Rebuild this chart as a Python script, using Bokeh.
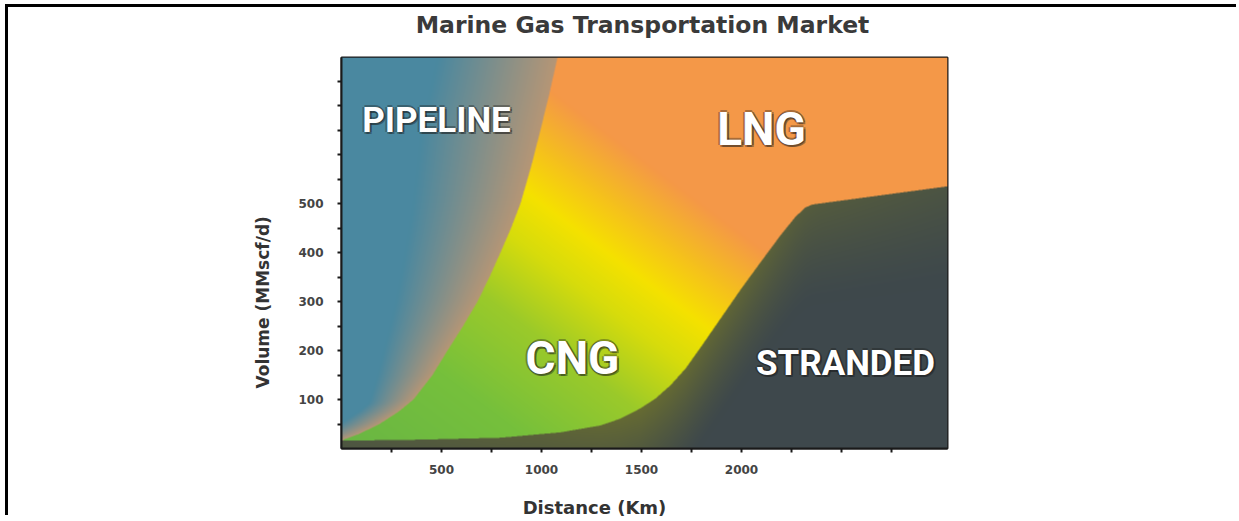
import numpy as np
from bokeh.plotting import figure
from bokeh.layouts import column
from bokeh.models import FixedTicker, ColumnDataSource, Title
from bokeh.core.properties import value
from bokeh.embed import file_html
from bokeh.resources import INLINE

# ---------------- data ----------------
title_text = "Marine Gas Transportation Market"
x_label = "Distance (Km)"
y_label = "Volume (MMscf/d)"

x_max = 3030
y_max = 798

x_ticks = [250, 500, 750, 1000, 1250, 1500, 1750, 2000, 2250, 2500, 2750]
x_tick_labels = {500: "500", 1000: "1000", 1500: "1500", 2000: "2000"}
y_ticks = [50, 100, 150, 200, 250, 300, 350, 400, 450, 500, 550, 600, 650, 700, 750]
y_tick_labels = {100: "100", 200: "200", 300: "300", 400: "400", 500: "500"}

# Pipeline / CNG boundary: distance (km) reachable by pipeline at a volume
pipe_y = [18, 30, 50, 75, 100, 150, 200, 250, 300, 350, 400, 450, 500, 575, 650, 725, 798]
pipe_x = [10, 90, 190, 285, 360, 455, 530, 608, 680, 740, 795, 848, 895, 948, 995, 1040, 1080]

# Upper edge of the STRANDED region
str_x = [0, 395, 795, 1095, 1295, 1395, 1495, 1570, 1645, 1720, 1795, 1895,
         1995, 2095, 2195, 2270, 2320, 2355, 3030]
str_y = [16, 18, 22, 33, 47, 61, 82, 102, 129, 163, 206, 265,
         324, 380, 435, 473, 492, 498, 535]

regions = ["PIPELINE", "LNG", "CNG", "STRANDED"]
label_x = [475, 2100, 1155, 2520]
label_y = [669, 653, 184, 173]
label_size = ["35px", "46px", "46px", "35px"]

# ---------------- layout constants ----------------
W = 1231
FW, FH = 606, 391
HEAD_H, FOOT_H = 48, 34


def bare(height):
    # strip whose plotting frame lines up with the main frame (pixel units)
    f = figure(width=W, height=height, x_range=(0, FW), y_range=(height, 0),
               min_border_left=333, min_border_right=W - 333 - FW,
               min_border_top=0, min_border_bottom=0,
               output_backend="svg", toolbar_location=None,
               x_axis_location=None, y_axis_location=None,
               background_fill_color="white", border_fill_color="white")
    f.outline_line_color = None
    f.grid.visible = False
    return f


# title strip
head = bare(HEAD_H)
head.text(x=[301], y=[17], text=[title_text], text_font=value("DejaVu Sans"),
          text_font_size="23.5px", text_font_style="bold", text_color="#3a3a3a",
          text_align="center", text_baseline="middle")

# ---------------- main figure ----------------
p = figure(frame_width=FW, frame_height=FH,
           x_range=(0, x_max), y_range=(0, y_max),
           min_border_left=333, min_border_right=W - 333 - FW,
           min_border_top=2, min_border_bottom=36,
           output_backend="svg", toolbar_location=None,
           background_fill_color="white", border_fill_color="white")
p.grid.visible = False
p.outline_line_color = "#1a1a1a"
p.outline_line_width = 2

# gradient field (rendered through the data scales)
S = 2
nx, ny = FW * S, FH * S
X = (np.arange(nx) + 0.5) / nx * x_max
Y = (np.arange(ny) + 0.5) / ny * y_max
XX, YY = np.meshgrid(X, Y)
kx, ky = FW / x_max, FH / y_max  # px per unit
Xp, Yp = XX * kx, YY * ky

bx = np.interp(YY, pipe_y, pipe_x)
sy = np.interp(XX, str_x, str_y)

stranded = YY < sy
pipeline = (~stranded) & (XX < bx)

# CNG / LNG diagonal gradient
s = 0.75 * Xp + Yp
st = [0, 150, 260, 340, 395, 450, 515, 2000]
R = np.interp(s, st, [105, 118, 155, 215, 245, 245, 244, 244])
G = np.interp(s, st, [182, 192, 202, 220, 226, 192, 152, 152])
B = np.interp(s, st, [68, 60, 42, 12, 0, 30, 72, 72])

# pipeline: blue fading to tan near its boundary
bx_px = bx * kx
d_px = (bx - XX) * kx
w = np.clip(0.6 * bx_px, 40, 120)
t = np.clip(1 - d_px / w, 0, 1)
pr = 74 * (1 - t) + 182 * t
pg = 136 * (1 - t) + 150 * t
pb = 160 * (1 - t) + 118 * t
R = np.where(pipeline, pr, R)
G = np.where(pipeline, pg, G)
B = np.where(pipeline, pb, B)

# stranded: dark slate with an olive glow under the boundary
d2 = (sy - YY) * ky
wx = np.interp(XX, [0, 1000, 1500, 2000, 2400, 3030], [0.35, 0.6, 0.85, 0.7, 0.45, 0.3])
t2 = (np.clip(1 - d2 / 100, 0, 1) ** 1.3) * wx
sr = 62 * (1 - t2) + 110 * t2
sg = 72 * (1 - t2) + 114 * t2
sb = 76 * (1 - t2) + 46 * t2
R = np.where(stranded, sr, R)
G = np.where(stranded, sg, G)
B = np.where(stranded, sb, B)


def down(a):
    return a.reshape(FH, S, FW, S).mean(axis=(1, 3))


R, G, B = down(R), down(G), down(B)
img = np.empty((FH, FW), dtype=np.uint32)
view = img.view(dtype=np.uint8).reshape((FH, FW, 4))
view[:, :, 0] = np.clip(R, 0, 255).astype(np.uint8)
view[:, :, 1] = np.clip(G, 0, 255).astype(np.uint8)
view[:, :, 2] = np.clip(B, 0, 255).astype(np.uint8)
view[:, :, 3] = 255
p.image_rgba(image=[img], x=0, y=0, dw=x_max, dh=y_max)

# region labels
src = ColumnDataSource(dict(name=regions, x=label_x, y=label_y, size=label_size))
label_font = value("Roboto")
for dx, dy, a in [(-2, 0, 0.35), (2, 0, 0.35), (0, -2, 0.35), (0, 2, 0.35), (2, 2, 0.4)]:
    p.text(x="x", y="y", text="name", source=src, text_font=label_font,
           text_font_size="size", text_font_style="bold", text_color="#1a1a1a",
           text_alpha=a, text_align="center", text_baseline="middle",
           x_offset=dx, y_offset=dy)
p.text(x="x", y="y", text="name", source=src, text_font=label_font,
       text_font_size="size", text_font_style="bold", text_color="white",
       text_align="center", text_baseline="middle")

# axes
for ax, ticks, labels in [(p.xaxis[0], x_ticks, x_tick_labels), (p.yaxis[0], y_ticks, y_tick_labels)]:
    ax.ticker = FixedTicker(ticks=ticks)
    ax.major_label_overrides = {tk: labels.get(tk, "") for tk in ticks}
    ax.axis_line_color = "#1a1a1a"
    ax.axis_line_width = 2
    ax.major_tick_line_color = "#1a1a1a"
    ax.major_tick_line_width = 2
    ax.major_tick_out = 4
    ax.major_tick_in = 0
    ax.minor_tick_line_color = None
    ax.major_label_text_font = "DejaVu Sans"
    ax.major_label_text_font_style = "bold"
    ax.major_label_text_font_size = "12px"
    ax.major_label_text_color = "#444444"
p.xaxis.major_label_standoff = 12
p.yaxis.major_label_standoff = 14

p.add_layout(Title(text=y_label, align="left", offset=60, text_font="DejaVu Sans",
                   text_font_size="17px", text_font_style="bold", text_color="#333333",
                   standoff=45), "left")

# x-axis title strip
foot = bare(FOOT_H)
foot.text(x=[253], y=[23], text=[x_label], text_font=value("DejaVu Sans"),
          text_font_size="18px", text_font_style="bold", text_color="#333333",
          text_align="center", text_baseline="middle")

layout = column(head, p, foot, spacing=0)
# page frame: black rule along the top and left edges
layout.styles = {"position": "relative", "top": "7px", "left": "8px",
                 "box-shadow": "-3px -3px 0px 0px #000000"}

open("out.html", "w").write(file_html(layout, INLINE))
